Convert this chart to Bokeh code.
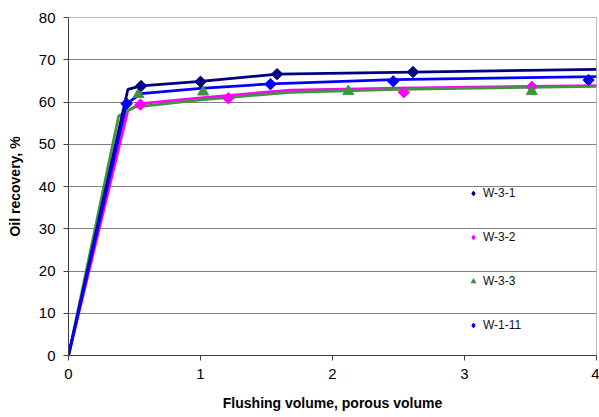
import numpy as np
from bokeh.plotting import figure
from bokeh.models import Legend, LegendItem, Range1d, FixedTicker
from bokeh.embed import file_html
from bokeh.resources import INLINE

# ---- data ----
series_names = ["W-3-1", "W-3-2", "W-3-3", "W-1-11"]

w31_line_x = [0, 0.45, 0.55, 1.0, 1.58, 2.61, 4.0]
w31_line_y = [0, 63.0, 63.8, 64.9, 66.6, 67.1, 67.7]
w31_pts_x = [0.55, 1.0, 1.58, 2.61]
w31_pts_y = [63.8, 64.8, 66.6, 67.1]

w32_line_x = [0, 0.45, 0.55, 1.0, 1.68, 2.5, 4.0]
w32_line_y = [0, 58.0, 59.6, 61.0, 62.8, 63.3, 63.9]
w32_pts_x = [0.545, 1.21, 2.54, 3.51]
w32_pts_y = [59.4, 60.9, 62.3, 63.6]

w33_line_x = [0, 0.38, 0.5, 1.0, 1.68, 2.5, 4.0]
w33_line_y = [0, 56.7, 58.8, 60.5, 62.3, 63.0, 63.7]
w33_pts_x = [0.53, 1.02, 2.12, 3.51]
w33_pts_y = [61.8, 62.4, 62.5, 62.5]

w111_line_x = [0, 0.44, 0.55, 1.0, 1.53, 2.46, 4.0]
w111_line_y = [0, 59.6, 62.0, 63.2, 64.3, 65.3, 66.0]
w111_pts_x = [0.44, 1.53, 2.46, 3.94]
w111_pts_y = [59.6, 64.2, 64.9, 65.2]

x_ticks = [0, 1, 2, 3, 4]
y_ticks = [0, 10, 20, 30, 40, 50, 60, 70, 80]

colors = {"W-3-1": "#000080", "W-3-2": "#FF00FF", "W-3-3": "#3C963C", "W-1-11": "#0000FF"}

p = figure(width=599, height=417, output_backend="svg", toolbar_location=None,
           x_range=Range1d(0, 4), y_range=Range1d(0, 80))
p.min_border_left = 68
p.min_border_right = 3
p.min_border_top = 17
p.min_border_bottom = 62
p.background_fill_color = "white"
p.outline_line_color = "#b8b8b8"

font = "Liberation Sans"
for ax in (p.xaxis[0], p.yaxis[0]):
    ax.major_label_text_font = font
    ax.major_label_text_font_size = "15px"
    ax.major_label_text_color = "black"
    ax.axis_label_text_font = font
    ax.axis_label_text_font_size = "14px"
    ax.axis_label_text_font_style = "bold"
    ax.axis_label_text_color = "black"
    ax.axis_line_color = "#404040"
    ax.major_tick_line_color = "#404040"
    ax.major_tick_in = 0
    ax.major_tick_out = 5
    ax.minor_tick_line_color = None

p.xaxis.ticker = FixedTicker(ticks=x_ticks)
p.yaxis.ticker = FixedTicker(ticks=y_ticks)
p.xaxis.axis_label = "Flushing volume, porous volume"
p.yaxis.axis_label = "Oil recovery, %"
p.xaxis.major_label_standoff = 8
p.xaxis.axis_label_standoff = 13
p.yaxis.major_label_standoff = 8
p.yaxis.axis_label_standoff = 13

p.xgrid.grid_line_color = None
p.ygrid.grid_line_color = "#808080"
p.ygrid.grid_line_width = 1

lw = 2.75
p.line(w32_line_x, w32_line_y, line_color=colors["W-3-2"], line_width=lw)
p.line(w33_line_x, w33_line_y, line_color=colors["W-3-3"], line_width=lw)
p.line(w31_line_x, w31_line_y, line_color=colors["W-3-1"], line_width=lw)
p.line(w111_line_x, w111_line_y, line_color=colors["W-1-11"], line_width=lw)

p.scatter(w32_pts_x, w32_pts_y, marker="square", angle=np.pi / 4, size=8,
          fill_color=colors["W-3-2"], line_color=colors["W-3-2"])
r33 = p.scatter(w33_pts_x, w33_pts_y, marker="triangle", size=11,
                fill_color=colors["W-3-3"], line_color=colors["W-3-3"])
p.scatter(w31_pts_x, w31_pts_y, marker="square", angle=np.pi / 4, size=8,
          fill_color=colors["W-3-1"], line_color=colors["W-3-1"])
p.scatter(w111_pts_x, w111_pts_y, marker="square", angle=np.pi / 4, size=8,
          fill_color=colors["W-1-11"], line_color=colors["W-1-11"])

# legend-only proxy glyphs (small diamonds as in the original legend); NaN = not drawn in plot
def legend_glyph(name):
    return p.scatter(x=[float("nan")], y=[float("nan")], marker="diamond", size=8,
                     fill_color=colors[name], line_color=colors[name])

l31 = legend_glyph("W-3-1")
l32 = legend_glyph("W-3-2")
l111 = legend_glyph("W-1-11")

legend = Legend(items=[
    LegendItem(label=series_names[0], renderers=[l31]),
    LegendItem(label=series_names[1], renderers=[l32]),
    LegendItem(label=series_names[2], renderers=[r33]),
    LegendItem(label=series_names[3], renderers=[l111]),
], location=(399, 23))
legend.background_fill_alpha = 0
legend.border_line_color = None
legend.padding = 0
legend.margin = 0
legend.glyph_width = 12
legend.glyph_height = 12
legend.label_height = 14
legend.spacing = 30
legend.label_standoff = 4
legend.label_text_font = font
legend.label_text_font_size = "12px"
legend.label_text_color = "#111111"
p.add_layout(legend, "center")

open("out.html", "w").write(file_html(p, INLINE))
